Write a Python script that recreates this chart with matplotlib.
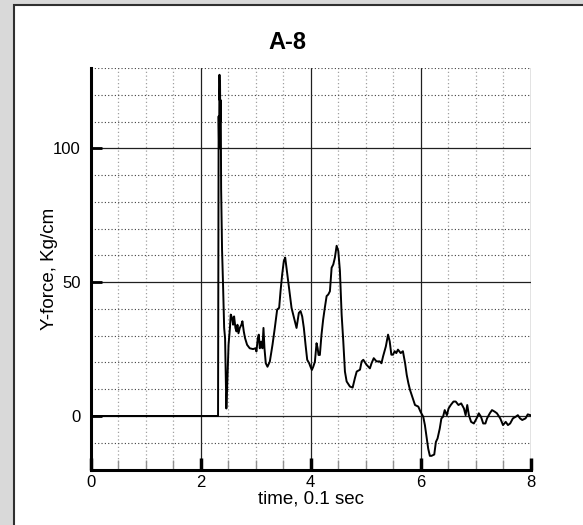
"""
    Y-force history for gauge A-8
"""

import matplotlib
matplotlib.use("Agg")
import matplotlib.pyplot as plt
from matplotlib.ticker import MultipleLocator
from matplotlib.patches import Rectangle

# time in units of 0.1 sec, force in Kg/cm
time = [0.0, 2.319, 2.325, 2.330, 2.338, 2.345, 2.350, 2.355, 2.360, 2.368,
        2.375, 2.385, 2.392, 2.410, 2.430, 2.447, 2.460, 2.470, 2.490, 2.510,
        2.535, 2.550, 2.575, 2.593, 2.611, 2.635, 2.654, 2.672, 2.690, 2.714,
        2.744, 2.762, 2.787, 2.810, 2.847, 2.895, 2.956, 2.999, 3.017, 3.042,
        3.060, 3.078, 3.102, 3.126, 3.145, 3.163, 3.187, 3.218, 3.260, 3.309,
        3.351, 3.394, 3.430, 3.455, 3.485, 3.515, 3.540, 3.564, 3.594, 3.625,
        3.655, 3.685, 3.716, 3.746, 3.764, 3.788, 3.819, 3.849, 3.879, 3.910,
        3.940, 3.976, 4.000, 4.025, 4.050, 4.080, 4.110, 4.130, 4.146, 4.170,
        4.200, 4.230, 4.260, 4.293, 4.323, 4.353, 4.384, 4.414, 4.444, 4.475,
        4.505, 4.535, 4.566, 4.596, 4.626, 4.657, 4.717, 4.766, 4.808, 4.840,
        4.900, 4.930, 4.960, 5.020, 5.080, 5.110, 5.150, 5.200, 5.260, 5.290,
        5.320, 5.370, 5.410, 5.440, 5.470, 5.500, 5.530, 5.560, 5.590, 5.640,
        5.680, 5.720, 5.750, 5.780, 5.810, 5.860, 5.900, 5.960, 6.000, 6.050,
        6.080, 6.110, 6.140, 6.170, 6.200, 6.250, 6.280, 6.310, 6.350, 6.380,
        6.410, 6.440, 6.480, 6.510, 6.550, 6.600, 6.640, 6.690, 6.740, 6.790,
        6.820, 6.850, 6.880, 6.920, 6.970, 7.020, 7.060, 7.100, 7.140, 7.180,
        7.210, 7.260, 7.300, 7.350, 7.390, 7.450, 7.500, 7.550, 7.590, 7.630,
        7.680, 7.730, 7.770, 7.810, 7.850, 7.910, 7.950, 8.000]
force = [0.0, 0.0, 60.0, 112.0, 100.0, 127.5, 118.0, 125.0, 110.0, 118.0,
         85.0, 70.0, 62.0, 49.0, 33.0, 29.0, 14.0, 2.8, 14.0, 26.6,
         32.9, 37.9, 36.6, 34.1, 37.2, 32.9, 31.6, 34.1, 30.9, 32.9,
         34.1, 35.4, 31.6, 29.1, 26.6, 25.3, 25.0, 25.3, 24.1, 29.1,
         30.4, 25.3, 27.8, 25.3, 32.9, 25.3, 19.7, 18.4, 20.3, 26.6,
         32.9, 39.8, 40.4, 46.6, 52.9, 57.9, 59.2, 55.4, 50.4, 45.4,
         40.4, 37.9, 35.4, 32.9, 35.4, 38.5, 39.2, 37.2, 32.9, 26.6,
         21.0, 19.7, 18.4, 17.2, 18.4, 20.3, 27.2, 25.3, 22.8, 22.8,
         30.4, 36.0, 40.4, 44.8, 45.4, 46.6, 55.4, 56.6, 59.2, 63.6,
         61.7, 54.2, 37.9, 27.9, 16.6, 12.9, 11.0, 10.6, 14.2, 16.6,
         17.3, 20.4, 21.0, 19.1, 17.8, 19.7, 21.6, 20.4, 20.4, 19.7,
         22.3, 26.0, 30.4, 27.9, 22.9, 22.9, 24.2, 23.5, 24.8, 23.5,
         24.2, 19.7, 15.3, 12.2, 9.7, 6.6, 4.1, 3.5, 1.6, -0.3,
         -3.4, -7.8, -12.2, -14.9, -14.9, -14.4, -9.7, -8.4, -4.7, -0.9,
         -0.3, 2.2, 0.3, 2.8, 4.1, 5.4, 5.4, 4.1, 4.7, 2.8,
         0.3, 4.1, 0.3, -2.2, -2.8, -0.9, 1.0, -0.3, -2.8, -2.8,
         -0.9, 1.0, 2.2, 1.6, 1.0, -0.9, -3.4, -2.2, -3.4, -2.8,
         -0.9, -0.3, 0.3, -0.9, -1.5, -0.9, 0.6, 0.3]

x_major = [0, 2, 4, 6, 8]
y_major = [0, 50, 100]


if __name__ == '__main__':
    plt.rcParams['font.family'] = ['Liberation Sans', 'DejaVu Sans']

    fig = plt.figure(figsize=(5.83, 5.25), dpi=100)
    fig.patch.set_facecolor('#d9d9d9')
    # white panel with a dark frame on the left and top
    fig.patches.append(Rectangle((14 / 583, -0.01), 1.0, 1 - 5 / 525 + 0.01,
                                 transform=fig.transFigure, facecolor='white',
                                 edgecolor='#303030', linewidth=1.5, zorder=-5))

    ax = fig.add_axes([90.5 / 583, 55.5 / 525, 440 / 583, 401.4 / 525])
    ax.patch.set_alpha(0)
    ax.plot(time, force, '-', color='black', linewidth=1.4, zorder=3)

    ax.set_xlim(0, 8)
    ax.set_ylim(-20, 130)
    ax.set_xticks(x_major)
    ax.set_yticks(y_major)
    ax.xaxis.set_minor_locator(MultipleLocator(0.5))
    ax.yaxis.set_minor_locator(MultipleLocator(10))

    # grid: solid major lines, dotted minor lines
    ax.grid(which='major', color='#202020', linestyle='-', linewidth=0.9)
    ax.xaxis.grid(which='minor', color='#a0a0a0', linestyle=(0, (1, 2)), linewidth=0.9)
    ax.yaxis.grid(which='minor', color='#404040', linestyle=(0, (1, 2)), linewidth=0.8)
    ax.set_axisbelow(True)

    for side in ['top', 'right']:
        ax.spines[side].set_visible(False)
    for side in ['left', 'bottom']:
        ax.spines[side].set_linewidth(2.2)

    ax.tick_params(axis='x', which='major', direction='in', length=9, width=2.5,
                   labelsize=12, pad=4)
    ax.tick_params(axis='x', which='minor', direction='in', length=7, width=1,
                   color='#909090')
    ax.tick_params(axis='y', which='major', direction='in', length=8, width=2,
                   labelsize=12, pad=7)
    ax.tick_params(axis='y', which='minor', length=0)

    ax.set_xlabel("time, 0.1 sec", fontsize=13.5, va='center')
    ax.xaxis.set_label_coords(0.5, -0.073)
    ax.set_ylabel("Y-force, Kg/cm", fontsize=13.5, va='center')
    ax.yaxis.set_label_coords(-0.094, 0.5)

    fig.text(287 / 583, 1 - 42.7 / 525, "A-8", ha='center', va='center',
             fontsize=17, fontweight='bold')

    plt.savefig('out.png', dpi=100)
